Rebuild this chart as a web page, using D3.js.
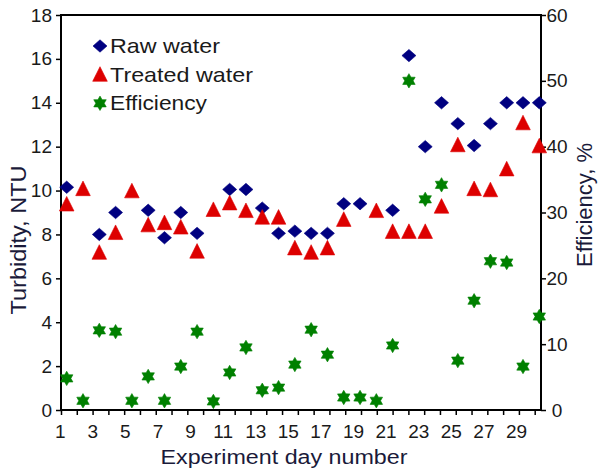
<!DOCTYPE html>
<html><head><meta charset="utf-8">
<script src="https://cdn.jsdelivr.net/npm/d3@7"></script>
<style>html,body{margin:0;padding:0;background:#fff;} svg{display:block;} text{font-family:"Liberation Sans",Arial,sans-serif;}</style>
</head><body><svg id="c" width="598" height="469"></svg>
<script>
const days = [1,2,3,4,5,6,7,8,9,10,11,12,13,14,15,16,17,18,19,20,21,22,23,24,25,26,27,28,29,30];
const rawWater = [10.15,null,8.0,9.0,null,9.1,7.85,9.0,8.05,null,10.05,10.05,9.2,8.05,8.15,8.05,8.05,9.4,9.4,null,9.1,16.15,12.0,14.0,13.05,12.05,13.05,14.0,14.0,14.0];
const treatedWater = [9.4,10.1,7.2,8.1,10.0,8.45,8.55,8.35,7.25,9.15,9.45,9.1,8.8,8.8,7.4,7.2,7.4,8.7,null,9.1,8.15,8.15,8.15,9.3,12.1,10.1,10.05,11.0,13.1,12.05];
const efficiency = [4.8,1.4,12.1,11.9,1.4,5.1,1.4,6.6,11.9,1.3,5.7,9.5,3.0,3.4,6.9,12.2,8.4,1.9,1.9,1.4,9.8,50.0,32.0,34.2,7.5,16.6,22.6,22.4,6.6,14.2];
const turbidityTicks = [0,2,4,6,8,10,12,14,16,18];
const efficiencyTicks = [0,10,20,30,40,50,60];
const dayLabels = [1,3,5,7,9,11,13,15,17,19,21,23,25,27,29];
const tickSlots = [0,1,2,3,4,5,6,7,8,9,10,11,12,13,14,15,16,17,18,19,20,21,22,23,24,25,26,27,28,29,30];
const seriesNames = ["Raw water","Treated water","Efficiency"];
const seriesColors = ["#000080","#dd0000","#008000"];

const W = 598, H = 469;
const plot = {left:61, right:541, top:15, bottom:410};
const svg = d3.select("#c");
svg.append("rect").attr("width",W).attr("height",H).attr("fill","#fff");

const x = d3.scaleLinear().domain([1,30]).range([66.7,539.3]);
const xTick = d3.scaleLinear().domain([0,30]).range([plot.left,534.7]);
const yL = d3.scaleLinear().domain([0,18]).range([plot.bottom,plot.top]);
const yR = d3.scaleLinear().domain([0,60]).range([plot.bottom,plot.top]);

const txt = "#1a1a1a";

// left axis
const gl = svg.append("g").attr("transform",`translate(${plot.left},0)`)
  .call(d3.axisLeft(yL).tickValues(turbidityTicks).tickSize(5).tickPadding(4));
gl.select(".domain").remove();
gl.selectAll("line").attr("stroke","#000").attr("stroke-width",1.5);
gl.selectAll("text").attr("font-size",19).attr("fill",txt).attr("font-family",null);

// right axis
const gr = svg.append("g").attr("transform",`translate(${plot.right},0)`)
  .call(d3.axisRight(yR).tickValues(efficiencyTicks).tickSize(5).tickPadding(4));
gr.select(".domain").remove();
gr.selectAll("line").attr("stroke","#000").attr("stroke-width",1.5);
gr.selectAll("text").attr("font-size",19).attr("fill",txt).attr("font-family",null)
  .attr("text-anchor","middle").attr("x",16);

// bottom ticks
const gb = svg.append("g").attr("transform",`translate(0,${plot.bottom})`)
  .call(d3.axisBottom(xTick).tickValues(tickSlots).tickSize(5).tickFormat(""));
gb.select(".domain").remove();
gb.selectAll("line").attr("stroke","#000").attr("stroke-width",1.5);

// bottom labels
svg.append("g").selectAll("text").data(dayLabels).join("text")
  .attr("x",d=>x(d)-6.5).attr("y",438).attr("text-anchor","middle")
  .attr("font-size",19).attr("fill",txt).text(d=>d);

// frame
svg.append("rect").attr("x",plot.left).attr("y",plot.top)
  .attr("width",plot.right-plot.left).attr("height",plot.bottom-plot.top)
  .attr("fill","none").attr("stroke","#000").attr("stroke-width",2);

// marker shapes
const diamond = "M0,-6.2L7,0L0,6.2L-7,0Z";
const triangle = "M0,-7.3L7.3,7.3L-7.3,7.3Z";
const star = (()=>{const R=7.2,r=4.2,p=[];for(let i=0;i<12;i++){const a=-Math.PI/2+i*Math.PI/6;const rr=i%2?r:R;p.push([rr*Math.cos(a),rr*Math.sin(a)]);}return "M"+p.map(q=>q[0].toFixed(2)+","+q[1].toFixed(2)).join("L")+"Z";})();
const shapes = [diamond,triangle,star];

const series = [
  {vals:rawWater, y:yL},
  {vals:treatedWater, y:yL},
  {vals:efficiency, y:yR}
];
series.forEach((s,i)=>{
  const pts = days.map((d,j)=>({d, v:s.vals[j]})).filter(p=>p.v!=null);
  svg.append("g").selectAll("path").data(pts).join("path")
    .attr("d",shapes[i]).attr("fill",seriesColors[i])
    .attr("stroke",seriesColors[i]).attr("stroke-width",0.6).attr("stroke-linejoin","round")
    .attr("transform",p=>`translate(${x(p.d)},${s.y(p.v)})`);
});

// legend
const legY = [46,74,103.3];
const legBase = [53,81.5,110];
const legLen = [110,143,97];
seriesNames.forEach((n,i)=>{
  svg.append("path").attr("d",shapes[i]).attr("fill",seriesColors[i])
    .attr("stroke",seriesColors[i]).attr("stroke-width",0.6).attr("stroke-linejoin","round")
    .attr("transform",`translate(100,${legY[i]})`);
  svg.append("text").attr("x",110).attr("y",legBase[i]).attr("font-size",21)
    .attr("fill",txt).attr("textLength",legLen[i]).attr("lengthAdjust","spacingAndGlyphs").text(n);
});

// titles
svg.append("text").attr("transform","translate(26,240) rotate(-90)")
  .attr("text-anchor","middle").attr("font-size",22).attr("fill","#1a1a3a")
  .attr("textLength",149).attr("lengthAdjust","spacingAndGlyphs").text("Turbidity, NTU");
svg.append("text").attr("transform","translate(592,205) rotate(-90)")
  .attr("text-anchor","middle").attr("font-size",22).attr("fill","#1a1a3a")
  .attr("textLength",124).attr("lengthAdjust","spacingAndGlyphs").text("Efficiency, %");
svg.append("text").attr("x",284).attr("y",464)
  .attr("text-anchor","middle").attr("font-size",20).attr("fill","#1a1a3a")
  .attr("textLength",247).attr("lengthAdjust","spacingAndGlyphs").text("Experiment day number");
</script></body></html>
